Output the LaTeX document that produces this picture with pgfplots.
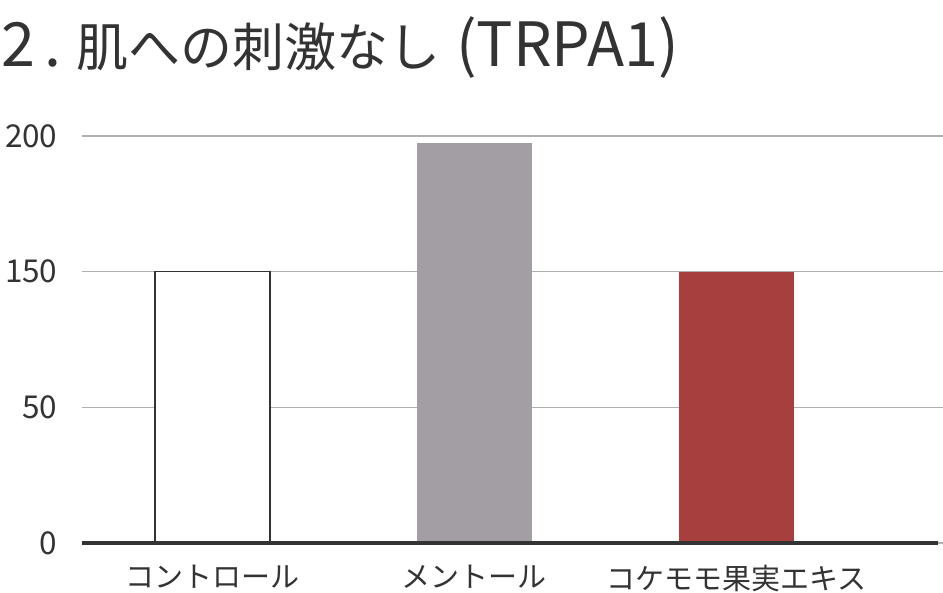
\documentclass[border=0pt]{standalone}
\usepackage{pgfplots}
\pgfplotsset{compat=1.18}
\usepackage{fontspec}
\setmainfont{Noto Sans CJK JP}
\definecolor{txt}{HTML}{333333}
\definecolor{gridc}{HTML}{B0B0B0}
\definecolor{mgray}{HTML}{A39EA3}
\definecolor{kred}{HTML}{A83F3F}
\newcommand{\lat}[1]{{\fontsize{61}{66}\selectfont #1}}
\begin{document}
\begin{tikzpicture}[x=1pt,y=1pt]
\useasboundingbox (0,0) rectangle (943,593);
\node[anchor=west, inner sep=0pt, text=txt, font=\fontsize{52}{60}\selectfont] at (1,545) {\lat{2}\hspace{10pt}\lat{.}\hspace{14pt}肌への刺激なし\hspace{16pt}\lat{(TRPA1)}};
\begin{axis}[
  at={(82pt,50pt)}, anchor=south west,
  scale only axis, width=861pt, height=407pt,
  xmin=-0.499, xmax=2.79, ymin=0, ymax=150,
  axis line style={draw=none},
  major tick style={draw=none},
  xtick={0,1,2},
  xticklabels={コントロール,メントール,コケモモ果実エキス},
  xticklabel style={text=txt, font=\fontsize{29}{32}\selectfont, yshift=-19pt},
  ytick={0,50,100,150},
  yticklabels={0,50,150,200},
  yticklabel style={text=txt, font=\fontsize{31.5}{34}\selectfont, xshift=-21pt},
  /pgf/number format/assume math mode=true,
  ymajorgrids, grid style={gridc, line width=1.5pt},
  clip=false,
]
\addplot[ybar, bar shift=0pt, bar width=115pt, fill=white, draw=txt, line width=1.5pt] coordinates {(0,100)};
\addplot[ybar, bar shift=0pt, bar width=115pt, fill=mgray, draw=none] coordinates {(1,147.5)};
\addplot[ybar, bar shift=0pt, bar width=115pt, fill=kred, draw=none] coordinates {(2,100)};
\draw[txt, line width=4pt] (axis cs:-0.499,0) -- (axis cs:2.77,0);
\end{axis}
\end{tikzpicture}
\end{document}
